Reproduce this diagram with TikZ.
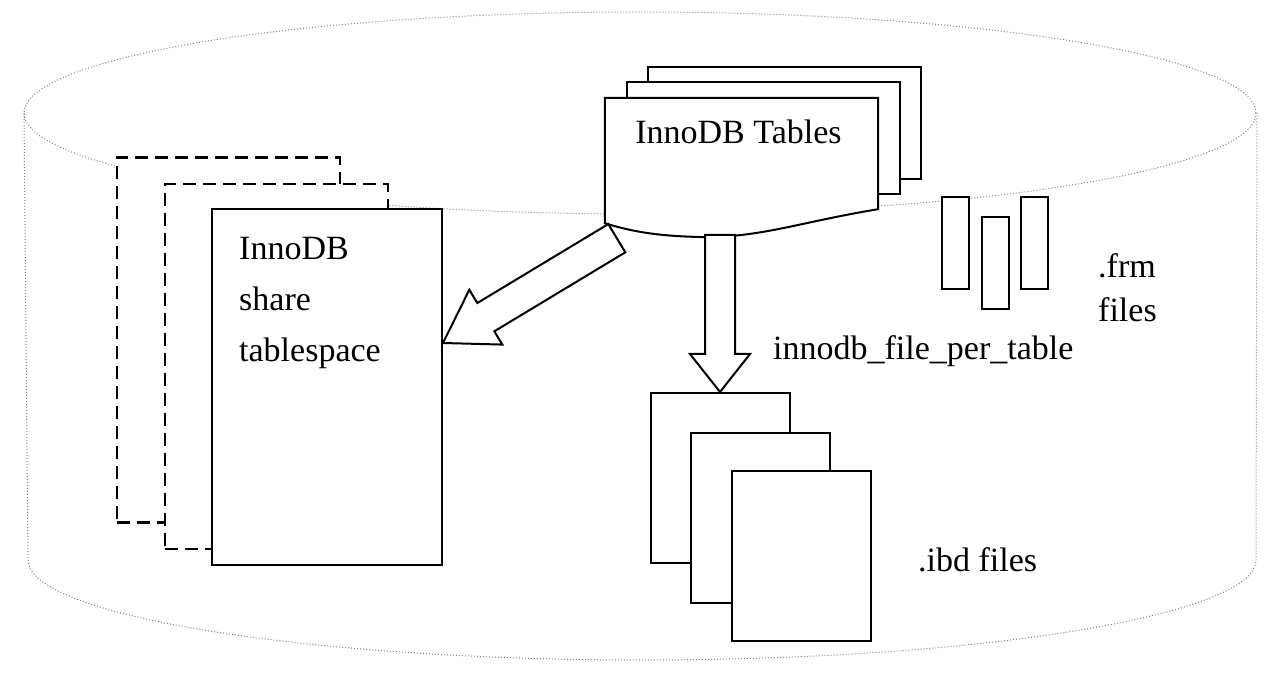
\documentclass[tikz,border=0pt]{standalone}
\usepackage{fontspec}
\setmainfont{Liberation Serif}
\usetikzlibrary{calc}

\tikzset{box/.style = {draw, fill=white, line width=2pt, inner sep=0pt},
         ghost/.style = {box, dashed, dash pattern=on 13pt off 7pt, line width=2.6pt},
         blockarr/.style = {draw, fill=white, line width=2pt, line join=miter},
         lbl/.style = {font=\fontsize{34}{51}\selectfont, inner sep=0pt},
         drum/.style = {gray, dotted, line width=1pt}
        }

\newcommand{\blkarrow}[5]{%
  \coordinate (hb) at ($(#2)!#5!(#1)$);
  \draw[blockarr] ($(#1)!#3!90:(#2)$) -- ($(hb)!#3!-90:(#1)$) -- ($(hb)!#4!-90:(#1)$) -- (#2)
     -- ($(hb)!#4!90:(#1)$) -- ($(hb)!#3!90:(#1)$) -- ($(#1)!#3!-90:(#2)$) -- cycle;}

\begin{document}
\begin{tikzpicture}[x=1pt, y=-1pt]
\useasboundingbox (0,0) rectangle (1278,692);
\draw[drum] (640,113) ellipse [x radius=616, y radius=101];
\draw[drum] (24,113) -- (28,560) arc[start angle=180, end angle=0, x radius=614, y radius=100] -- (1257,113);
\foreach \n/\x/\y in {ghost1/228.5/340, ghost2/276.5/366.5}
   \node[ghost, minimum width=223pt, minimum height=365pt] (\n) at (\x,\y) {};
\node[box, minimum width=230pt, minimum height=356pt] (share) at (327,387) {};
\node[lbl, anchor=north west, align=left] (sharel) at ($(share.north west)+(28,29)$) {InnoDB\\share\\tablespace};
\node[minimum width=273pt, minimum height=111pt, inner sep=0pt] (tables) at (741.5,153.5) {};
\foreach \i in {2,1}
   \node[box, minimum width=273pt, minimum height=112pt] (tab\i) at ($(tables)+(\i*21.5,-\i*15)$) {};
\coordinate (wl) at ($(tables.south west)+(0,14)$);
\draw[fill=white, line width=2pt] (wl) -- (tables.north west) -- (tables.north east) -- (tables.south east)
   .. controls (800,222) and (760,238) .. (700,237) .. controls (655,236) and (630,231) .. (wl) -- cycle;
\node[lbl, anchor=base] (tabl) at ($(tables.north)+(-3,46)$) {InnoDB Tables};
\foreach \n/\x/\y in {frm1/955.5/243, frm2/995.5/263, frm3/1034/243}
   \node[box, minimum width=27pt, minimum height=92pt] (\n) at (\x,\y) {};
\foreach \n/\x/\y in {ibd1/720/478, ibd2/760.5/518, ibd3/801.5/556}
   \node[box, minimum width=139pt, minimum height=170pt] (\n) at (\x,\y) {};
\coordinate (tail1) at ($(wl)+(12,15)$);
\coordinate (tip1) at ($(share.east)+(0,-44)$);
\coordinate (tail2) at ($(ibd1.north)+(0,-157)$);
\blkarrow{tail1}{tip1}{16.5pt}{32pt}{50pt}
\blkarrow{tail2}{ibd1.north}{15pt}{30pt}{38pt}
\node[lbl, anchor=base west] (perl) at (773,360) {innodb\_file\_per\_table};
\node[lbl, anchor=north west, align=left, font=\fontsize{34}{44}\selectfont] (frml) at (1098,253) {.frm\\files};
\node[lbl, anchor=base west] (ibdl) at (918,571) {.ibd files};
\end{tikzpicture}
\end{document}
